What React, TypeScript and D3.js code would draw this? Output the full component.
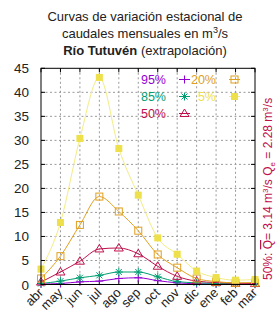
import * as d3 from "d3";

const months = ["abr", "may", "jun", "jul", "ago", "sep", "oct", "nov", "dic", "ene", "feb", "mar"];
const yTicks = [0, 5, 10, 15, 20, 25, 30, 35, 40, 45];

const q95 = [0.1, 0.2, 0.55, 0.7, 1.25, 1.4, 0.8, 0.35, 0.15, 0.1, 0.05, 0.05];
const q85 = [0.2, 0.7, 1.4, 1.9, 2.6, 2.6, 1.6, 0.6, 0.35, 0.2, 0.15, 0.1];
const q50 = [0.5, 2.6, 4.85, 7.4, 7.6, 6.4, 3.8, 1.7, 0.7, 0.4, 0.25, 0.2];
const q20 = [1.25, 5.9, 12.4, 18.3, 15.2, 11.2, 6.25, 3.5, 1.25, 0.6, 0.35, 0.4];
const q5 = [3.2, 12.9, 30.4, 43.1, 28.3, 18.6, 9.7, 6.3, 2.8, 1.45, 0.9, 1.05];

const seriesLabels = ["95%", "85%", "50%", "20%", "5%"];

const font = "'Liberation Sans', Arial, sans-serif";
const crimson = "#c0104c";

const series = [
  { label: seriesLabels[0], values: q95, color: "#9400d3", line: "#9400d3", marker: "plus" },
  { label: seriesLabels[1], values: q85, color: "#009e73", line: "#009e73", marker: "star" },
  { label: seriesLabels[2], values: q50, color: crimson, line: crimson, marker: "tri" },
  { label: seriesLabels[3], values: q20, color: "#e0a020", line: "#e0a020", marker: "sqo" },
  { label: seriesLabels[4], values: q5, color: "#eee04a", line: "#f3ec84", marker: "sqf" },
];

function Marker({ type, x, y, color }: { type: string; x: number; y: number; color: string }) {
  const t = `translate(${x},${y})`;
  if (type === "plus") return <path transform={t} d="M-4,0H4M0,-4V4" stroke={color} fill="none" />;
  if (type === "star")
    return <path transform={t} d="M-4,0H4M0,-4V4M-3,-3L3,3M-3,3L3,-3" stroke={color} fill="none" />;
  if (type === "tri") return <path transform={t} d="M0,-4.5L4.5,3L-4.5,3Z" stroke={color} fill="none" />;
  if (type === "sqo") return <rect transform={t} x={-3.5} y={-3.5} width={7} height={7} stroke={color} fill="none" />;
  return <rect transform={t} x={-3.5} y={-3.5} width={7} height={7} fill={color} />;
}

export default function App() {
  const left = 41, right = 255, top = 68.3, bottom = 284.5;
  const x = d3.scalePoint<string>().domain(months).range([left, right]);
  const y = d3.scaleLinear().domain([0, 45]).range([bottom, top]);
  const line = d3
    .line<number>()
    .x((_, i) => x(months[i]) as number)
    .y((d) => y(d))
    .curve(d3.curveMonotoneX);

  const legendPos = [
    { tx: 166, mx: 184.5, ty: 79.5 },
    { tx: 166, mx: 184.5, ty: 96.5 },
    { tx: 166, mx: 184.5, ty: 113.5 },
    { tx: 216, mx: 234.5, ty: 79.5 },
    { tx: 216, mx: 234.5, ty: 96.5 },
  ];

  return (
    <svg width={280} height={320} style={{ position: "absolute", left: 0, top: 0, background: "#fff" }} fontFamily={font}>
      <text x={145} y={21} fontSize={13} textAnchor="middle" fill="#222">Curvas de variación estacional de</text>
      <text x={145} y={38} fontSize={13} textAnchor="middle" fill="#222">
        caudales mensuales en m<tspan fontSize={9} dy={-5}>3</tspan><tspan dy={5}>/s</tspan>
      </text>
      <text x={145} y={54.5} fontSize={13} textAnchor="middle" fill="#222">
        <tspan fontWeight="bold">Río Tutuvén</tspan> (extrapolación)
      </text>

      {/* grid */}
      <g stroke="#999" strokeDasharray="2,2.5" strokeWidth={1}>
        {months.slice(1, -1).map((m) => (
          <line key={m} x1={x(m)} x2={x(m)} y1={top} y2={bottom} />
        ))}
        {yTicks.slice(1, -1).map((v) => (
          <line key={v} x1={left} x2={right} y1={y(v)} y2={y(v)} />
        ))}
      </g>

      {/* ticks */}
      <g stroke="#000">
        {yTicks.map((v) => (
          <g key={v}>
            <line x1={left} x2={left + 4} y1={y(v)} y2={y(v)} />
            <line x1={right - 4} x2={right} y1={y(v)} y2={y(v)} />
          </g>
        ))}
        {months.map((m) => (
          <g key={m}>
            <line x1={x(m)} x2={x(m)} y1={bottom} y2={bottom - 4} />
            <line x1={x(m)} x2={x(m)} y1={top} y2={top + 4} />
          </g>
        ))}
      </g>

      {yTicks.map((v) => (
        <text key={v} x={29} y={y(v) + 5} fontSize={13.5} textAnchor="end" fill="#222">{v}</text>
      ))}
      {months.map((m) => (
        <text
          key={m}
          transform={`translate(${(x(m) as number) + 3},${bottom + 9}) rotate(-45)`}
          fontSize={13}
          textAnchor="end"
          fill="#222"
        >
          {m}
        </text>
      ))}

      {/* series */}
      {series.map((s) => (
        <g key={s.label}>
          <path d={line(s.values) ?? ""} fill="none" stroke={s.line} strokeWidth={1} />
          {s.values.map((v, i) => (
            <Marker key={i} type={s.marker} x={x(months[i]) as number} y={y(v)} color={s.color} />
          ))}
        </g>
      ))}

      {/* legend */}
      {series.map((s, i) => (
        <g key={s.label}>
          <text x={legendPos[i].tx} y={legendPos[i].ty + 4.5} fontSize={12.5} textAnchor="end" fill={s.color}>{s.label}</text>
          <line x1={legendPos[i].mx - 5.5} x2={legendPos[i].mx + 5.5} y1={legendPos[i].ty} y2={legendPos[i].ty} stroke={s.line} />
          <Marker type={s.marker} x={legendPos[i].mx} y={legendPos[i].ty} color={s.color} />
        </g>
      ))}

      <rect x={left} y={top} width={right - left} height={bottom - top} fill="none" stroke="#000" />

      {/* side note */}
      <text transform="translate(272,280) rotate(-90)" fontSize={12} fill={crimson}>
        50%:  <tspan textDecoration="overline">Q</tspan>= 3.14 m<tspan fontSize={8} dy={-4}>3</tspan><tspan dy={4}>/s   Q</tspan>
        <tspan fontSize={8} dy={3}>e</tspan><tspan dy={-3}> = 2.28 m</tspan>
        <tspan fontSize={8} dy={-4}>3</tspan><tspan dy={4}>/s</tspan>
      </text>
    </svg>
  );
}
